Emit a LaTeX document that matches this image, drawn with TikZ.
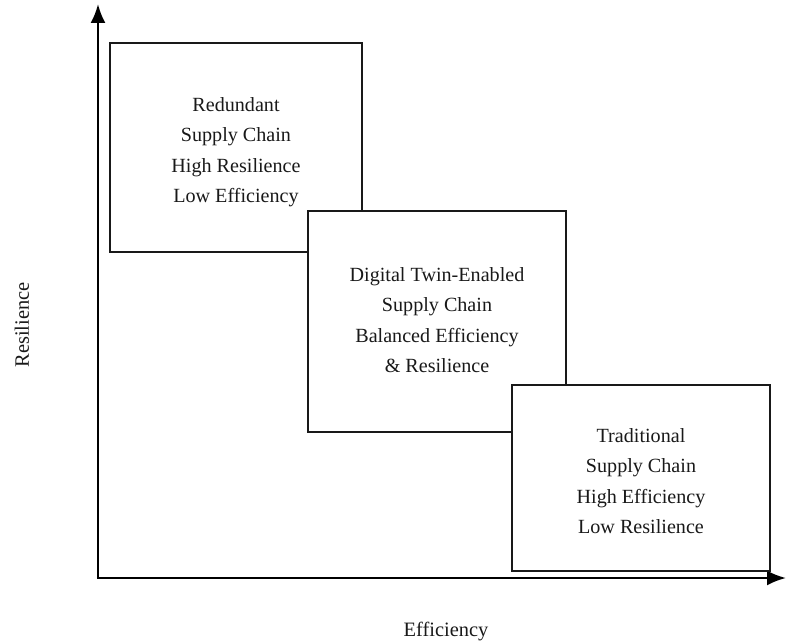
\documentclass[tikz,border=0pt]{standalone}
\usepackage{fontspec}
\setmainfont{Liberation Serif}
\usetikzlibrary{arrows.meta}
\begin{document}
\begin{tikzpicture}[x=1bp,y=-1bp,
  quad/.style={draw=black!90, line width=2.4bp, fill=white},
  quadtext/.style={align=center, text=black!90, font=\fontsize{20.2}{30.5}\selectfont, inner sep=0pt},
  axis/.style={draw=black, line width=2.4bp, -{Latex[length=19bp,width=15bp]}},
  axlabel/.style={text=black!90, font=\fontsize{20.5}{24}\selectfont, inner sep=0pt}]
\useasboundingbox (0,0) rectangle (786,644);
\coordinate (O) at (98,578);
\coordinate (ytop) at (98,4);
\coordinate (xend) at (786,578);
\draw[axis] (O) -- (ytop);
\draw[axis] ([xshift=-1.2bp]O) -- (xend);
% boxes
\draw[quad] (110,43) rectangle (362,252);
\node[quadtext] (b1) at (236,152) {Redundant\\Supply Chain\\High Resilience\\Low Efficiency};
\draw[quad] (308,211) rectangle (566,432);
\node[quadtext] (b2) at (437,320) {Digital Twin-Enabled\\Supply Chain\\Balanced Efficiency\\\& Resilience};
\draw[quad] (512,385) rectangle (770,571);
\node[quadtext] (b3) at (641,481) {Traditional\\Supply Chain\\High Efficiency\\Low Resilience};
% axis labels
\node[axlabel, rotate=90] (ylab) at (22,325) {Resilience};
\node[axlabel] (xlab) at (446,632) {Efficiency};
\end{tikzpicture}
\end{document}
